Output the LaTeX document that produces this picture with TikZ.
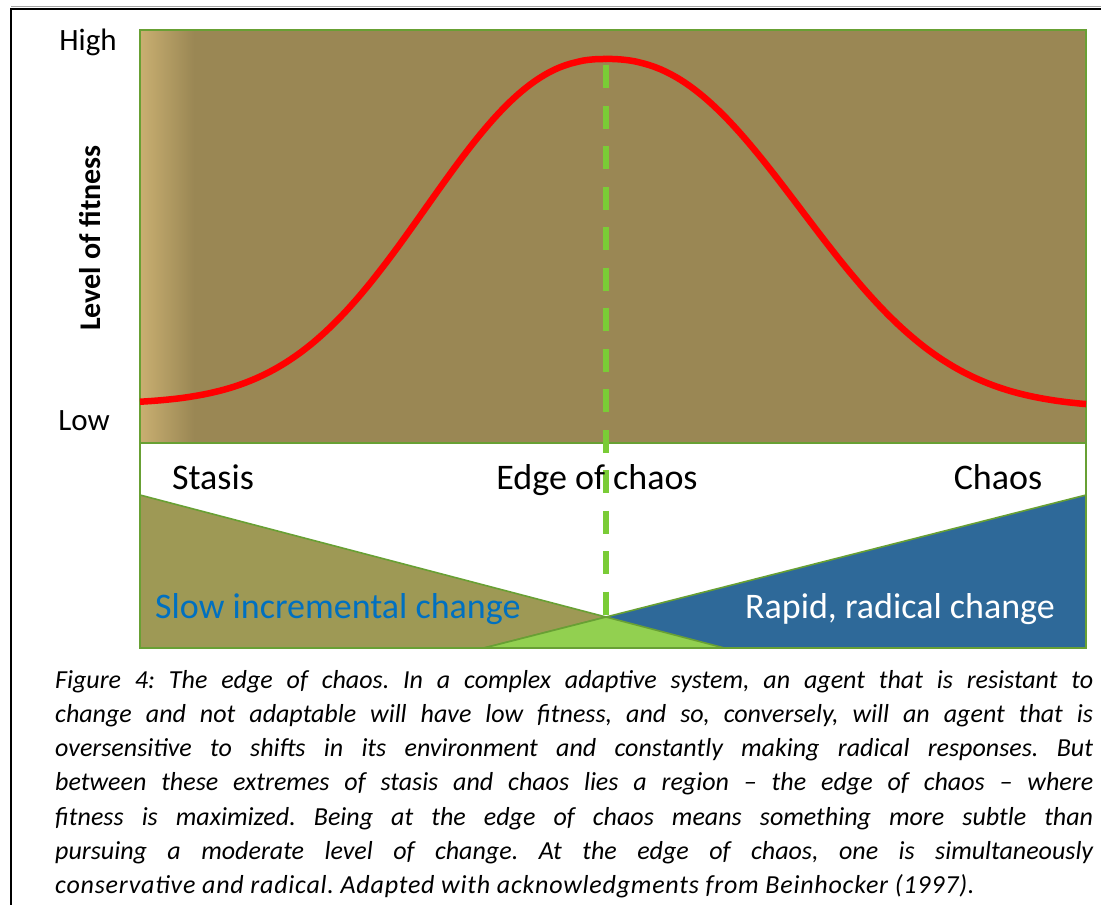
\documentclass[tikz,border=0pt]{standalone}
\usepackage{fontspec}
\setmainfont{Carlito}
\definecolor{chartbrown}{RGB}{154,135,84}
\definecolor{stripetan}{RGB}{201,175,113}
\definecolor{olivefill}{RGB}{158,153,85}
\definecolor{bluefill}{RGB}{46,105,153}
\definecolor{overlapgreen}{RGB}{146,208,80}
\definecolor{edgegreen}{RGB}{104,160,52}
\definecolor{dashgreen}{RGB}{122,204,54}
\definecolor{textblue}{RGB}{0,112,192}
\tikzset{
  axislbl/.style={inner sep=0, anchor=base, font=\fontsize{31}{36}\selectfont},
  zonelbl/.style={inner sep=0, anchor=base, font=\fontsize{36}{42}\selectfont},
  captionline/.style={inner sep=0, anchor=base west, font=\fontsize{26}{30}\selectfont\itshape\frenchspacing},
  edgeline/.style={draw=edgegreen, line width=1.6pt},
  peakline/.style={draw=dashgreen, line width=6pt, dash pattern=on 23pt off 17.5pt},
  fitcurve/.style={draw=red, line width=6.5pt, line join=round}
}
\newcommand{\capline}[1]{\makebox[1038pt][s]{#1}}
\begin{document}
\begin{tikzpicture}[x=1pt,y=-1pt]
\useasboundingbox (0,0) rectangle (1101,905);
\fill[white] (0,0) rectangle (1101,905);
% page frame
\draw[gray!70, line width=1pt] (11,6.8) -- (1101,6.8);
\draw[black, line width=2pt] (11,905) -- (11,9.2) -- (1101,9.2);
% chart background
\fill[chartbrown] (140,30) rectangle (1086,443);
\shade[left color=stripetan, right color=chartbrown] (140,30) rectangle (194,443);
% zone triangles
\filldraw[fill=olivefill, edgeline] (140,495) -- (724.4,648) -- (140,648) -- cycle;
\filldraw[fill=bluefill, edgeline] (1086,495) -- (484,648) -- (1086,648) -- cycle;
\filldraw[fill=overlapgreen, edgeline] (606,617) -- (724.4,648) -- (484,648) -- cycle;
% frame of chart
\draw[edgeline, line width=2pt] (140,30) rectangle (1086,648);
\draw[edgeline, line width=2pt] (140,443) -- (1086,443);
% dashed line
\coordinate (peak) at (606,65);
\coordinate (apex) at (606,617);
\draw[peakline] (peak) -- (apex);
% fitness curve
\draw[fitcurve]
  plot[domain=140:606, samples=80, smooth] (\x, {404-345*exp(-((606.001-\x)/231)^2.3)})
  -- plot[domain=606:1086, samples=80, smooth] (\x, {408-349*exp(-((\x-605.999)/250)^2.3)});
% axis labels
\node[axislbl] (high) at (88,50) {High};
\node[axislbl] (low) at (84,430) {Low};
\node[inner sep=0, anchor=base, rotate=90, font=\fontsize{30}{36}\selectfont\bfseries] (ylabel) at (100,238) {Level of fitness};
% zone labels
\node[zonelbl] (stasis) at (213,489) {Stasis};
\node[zonelbl] (edge) at (597,489) {Edge of chaos};
\node[zonelbl] (chaos) at (998,489) {Chaos};
\node[zonelbl, text=textblue, anchor=base west] (slow) at (155,618) {Slow incremental change};
\node[zonelbl, text=white, anchor=base east] (rapid) at (1055,618) {Rapid, radical change};
% caption
\node[captionline] (c1) at (55,688) {\capline{Figure 4: The edge of chaos. In a complex adaptive system, an agent that is resistant to}};
\node[captionline] (c2) at (55,722.3) {\capline{change and not adaptable will have low fitness, and so, conversely, will an agent that is}};
\node[captionline] (c3) at (55,756.6) {\capline{oversensitive to shifts in its environment and constantly making radical responses. But}};
\node[captionline] (c4) at (55,790.9) {\capline{between these extremes of stasis and chaos lies a region -- the edge of chaos -- where}};
\node[captionline] (c5) at (55,825.2) {\capline{fitness is maximized. Being at the edge of chaos means something more subtle than}};
\node[captionline] (c6) at (55,859.5) {\capline{pursuing a moderate level of change. At the edge of chaos, one is simultaneously}};
\node[captionline] (c7) at (55,893.8) {\addfontfeatures{LetterSpace=3}conservative and radical. Adapted with acknowledgments from Beinhocker (1997).};
\end{tikzpicture}
\end{document}
